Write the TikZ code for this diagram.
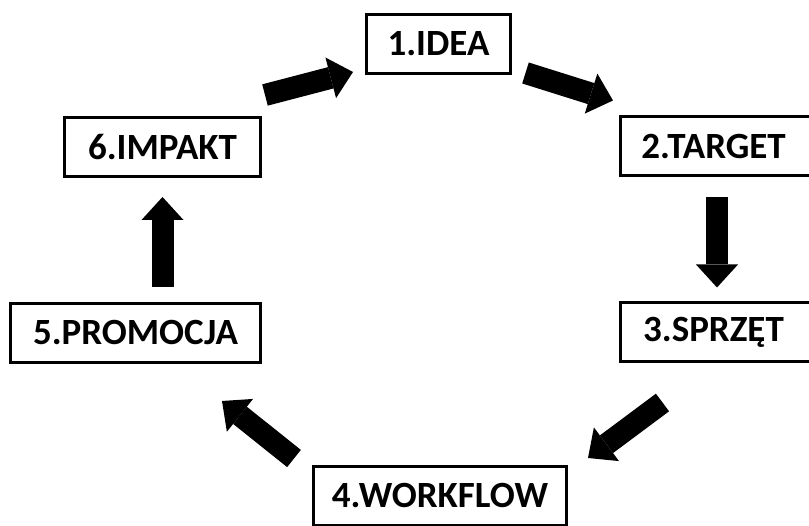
\documentclass[tikz,border=0pt]{standalone}
\usepackage{fontspec}
\setmainfont{Carlito}
\usetikzlibrary{positioning}
\usetikzlibrary{arrows.meta}

\begin{document}
\begin{tikzpicture}
	[x=1pt,y=1pt,
	 every node/.style={rectangle,draw=black,line width=3pt,inner sep=0pt,minimum height=59pt,
	   font=\fontsize{37}{40}\selectfont\bfseries},
	 flow/.style={line width=22pt,-{Triangle[width=42pt,length=23pt,line width=0pt]}},
	 node distance=124pt]
	\useasboundingbox (0,0) rectangle (809,526);
	\node (s1) [minimum width=144pt] at (438.5,482) {1.IDEA};
	\node (s2) [minimum width=191pt] at (716,379.5) {\hspace*{-5pt}2.TARGET};
	\node (s3) [minimum width=191pt,below=of s2] {\hspace*{-5pt}3.SPRZĘT};
	\node (s4) [minimum width=253pt] at (440,30) {4.WORKFLOW};
	\node (s6) [minimum width=196pt] at (162.5,379) {6.IMPAKT};
	\node (s5) [minimum width=250pt,below=of s6.south east,anchor=north east] {5.PROMOCJA};
	\coordinate (t5) at (s6.south |- s5.north);

	\draw [flow] ([shift={(3,21)}]s6.north east) -- ([shift={(-12,3)}]s1.south west);
	\draw [flow] ([shift={(13.5,2)}]s1.south east) -- ([shift={(-6,15)}]s2.north west);
	\draw [flow] ([shift={(1,-20)}]s2.south) -- ([shift={(1,14)}]s3.north);
	\draw [flow] ([shift={(43.5,-39)}]s3.south west) -- ([shift={(20,7)}]s4.north east);
	\draw [flow] ([shift={(-18,6.5)}]s4.north west) -- ([shift={(-40,-37)}]s5.south east);
	\draw [flow] ([yshift=15]t5) -- ([yshift=-19]s6.south);
\end{tikzpicture}
\end{document}
